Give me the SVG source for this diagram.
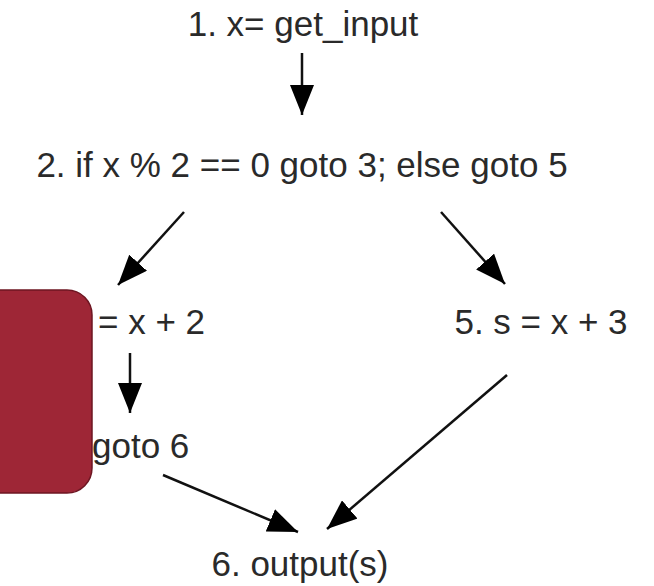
<svg xmlns="http://www.w3.org/2000/svg" width="654" height="586" viewBox="0 0 654 586">
<style>
text{font-family:"Liberation Sans",Arial,sans-serif;font-size:35px;fill:#2a2a2a;text-anchor:middle}
text.l{text-anchor:start}
.c line{stroke:#111;stroke-width:2.5;marker-end:url(#ah)}
</style>
<defs>
<marker id="ah" markerUnits="userSpaceOnUse" markerWidth="32" markerHeight="24" refX="30" refY="12" orient="auto">
<path d="M0,0 L30,12 L0,24 Z" fill="#000"/>
</marker>
</defs>
<rect width="654" height="586" fill="#fff"/>
<g id="n1"><text x="303" y="36">1. x= get_input</text></g>
<g id="n2"><text x="302" y="177">2. if x % 2 == 0 goto 3; else goto 5</text></g>
<g id="n3"><text class="l" x="98" y="334">= x + 2</text></g>
<g id="n5"><text x="541" y="334">5. s = x + 3</text></g>
<g id="n4"><text class="l" x="92" y="458">goto 6</text></g>
<g id="n6"><text x="300" y="576">6. output(s)</text></g>
<g class="c">
<line x1="302" y1="53" x2="302" y2="115"/>
<line x1="184" y1="212" x2="118" y2="285"/>
<line x1="441" y1="212" x2="505" y2="284"/>
<line x1="130" y1="353" x2="130" y2="413"/>
<line x1="163" y1="475" x2="298" y2="532"/>
<line x1="507" y1="375" x2="327" y2="529"/>
</g>
<g id="redbox"><rect x="-30" y="290" width="122" height="203" rx="25" ry="25" fill="#9e2636" stroke="#6e1622" stroke-width="1.5"/></g>
</svg>
